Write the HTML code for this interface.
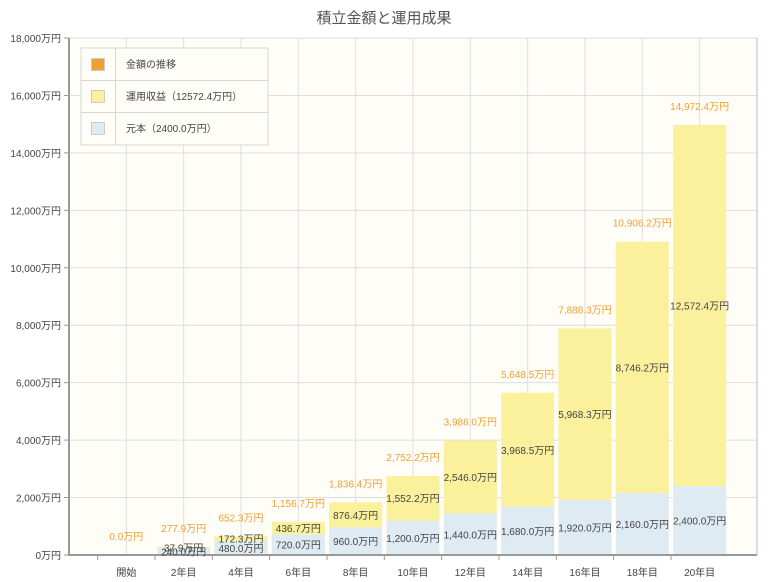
<!DOCTYPE html>
<html><head><meta charset="utf-8"><style>
html,body{margin:0;padding:0;background:#fff;}
svg{display:block;font-family:"Liberation Sans","Noto Sans CJK JP",sans-serif;}
</style></head><body>
<svg id="c" width="768" height="582" xmlns="http://www.w3.org/2000/svg">
<rect x="0" y="0" width="768" height="582" fill="#fff"/>
<text x="384" y="23" text-anchor="middle" font-size="15" fill="#555">積立金額と運用成果</text>
<rect x="69" y="38" width="688" height="517" fill="#fffdf7" stroke="#d8d8d8"/>
<g id="grid"></g>
<g id="bars"></g>
<line x1="69" y1="38" x2="69" y2="556" stroke="#999" stroke-width="2"/>
<line x1="69" y1="555" x2="757" y2="555" stroke="#999" stroke-width="2"/>
<line x1="757" y1="38" x2="757" y2="555" stroke="#bbb" stroke-width="1"/>
<g id="lab"></g>
<g>
<rect x="81" y="48" width="187" height="97" fill="#fffdf7" stroke="#d6d6d6"/>
<line x1="81" y1="80.5" x2="268" y2="80.5" stroke="#d6d6d6"/>
<line x1="81" y1="112.5" x2="268" y2="112.5" stroke="#d6d6d6"/>
<line x1="115.5" y1="48" x2="115.5" y2="145" stroke="#d6d6d6"/>
<rect x="91.5" y="58.5" width="13" height="12" fill="#f0a030" stroke="#ccc"/>
<rect x="91.5" y="90.5" width="13" height="12" fill="#fbf09c" stroke="#ccc"/>
<rect x="91.5" y="122.5" width="13" height="12" fill="#deebf2" stroke="#ccc"/>
<text x="126" y="68" font-size="10" fill="#444">金額の推移</text>
<text x="126" y="100" font-size="10" fill="#444">運用収益（12572.4万円）</text>
<text x="126" y="132" font-size="10" fill="#444">元本（2400.0万円）</text>
</g>
</svg>
<script>
var NS="http://www.w3.org/2000/svg";
function el(p,t,a,txt){var e=document.createElementNS(NS,t);for(var k in a)e.setAttribute(k,a[k]);if(txt!=null)e.textContent=txt;document.getElementById(p).appendChild(e);return e;}
var s=517/18000;function Y(v){return 555-v*s;}
for(var g=0;g<=18000;g+=2000){var y=Y(g);
 if(g>0)el("grid","line",{x1:69,x2:757,y1:y,y2:y,stroke:"#dedede"});
 el("grid","line",{x1:64,x2:69,y1:y,y2:y,stroke:"#999"});
 el("lab","text",{x:61,y:y+4,"text-anchor":"end","font-size":"10",fill:"#444"},(g?g.toLocaleString("en-US"):"0")+"万円");}
var cats=["開始","2年目","4年目","6年目","8年目","10年目","12年目","14年目","16年目","18年目","20年目"];
var yld=[0,37.9,172.3,436.7,876.4,1552.2,2546.0,3968.5,5968.3,8746.2,12572.4];
function f(v){return v.toLocaleString("en-US",{minimumFractionDigits:1,maximumFractionDigits:1});}
for(var i=0;i<11;i++){var cx=69+57.33*(i+1);
 el("grid","line",{x1:cx,x2:cx,y1:38,y2:555,stroke:"#dedede"});
 el("grid","line",{x1:cx-28.66,x2:cx-28.66,y1:555,y2:560,stroke:"#999"});
 var p=240*i,t=p+yld[i];
 if(i>0){
  el("bars","rect",{x:cx-26.5,y:Y(t),width:53,height:Y(p)-Y(t),fill:"#fbf09c"});
  el("bars","rect",{x:cx-26.5,y:Y(p),width:53,height:555-Y(p),fill:"#deebf2"});
  el("lab","text",{x:cx,y:(Y(t)+Y(p))/2+4,"text-anchor":"middle","font-size":"10",fill:"#444"},f(yld[i])+"万円");
  el("lab","text",{x:cx,y:(Y(p)+555)/2+4,"text-anchor":"middle","font-size":"10",fill:"#444"},f(p)+"万円");
 }
 el("lab","text",{x:cx,y:Y(t)-15,"text-anchor":"middle","font-size":"10",fill:"#f0a030"},f(t)+"万円");
 el("lab","text",{x:cx,y:576,"text-anchor":"middle","font-size":"10",fill:"#444"},cats[i]);
}
</script>
</body></html>
